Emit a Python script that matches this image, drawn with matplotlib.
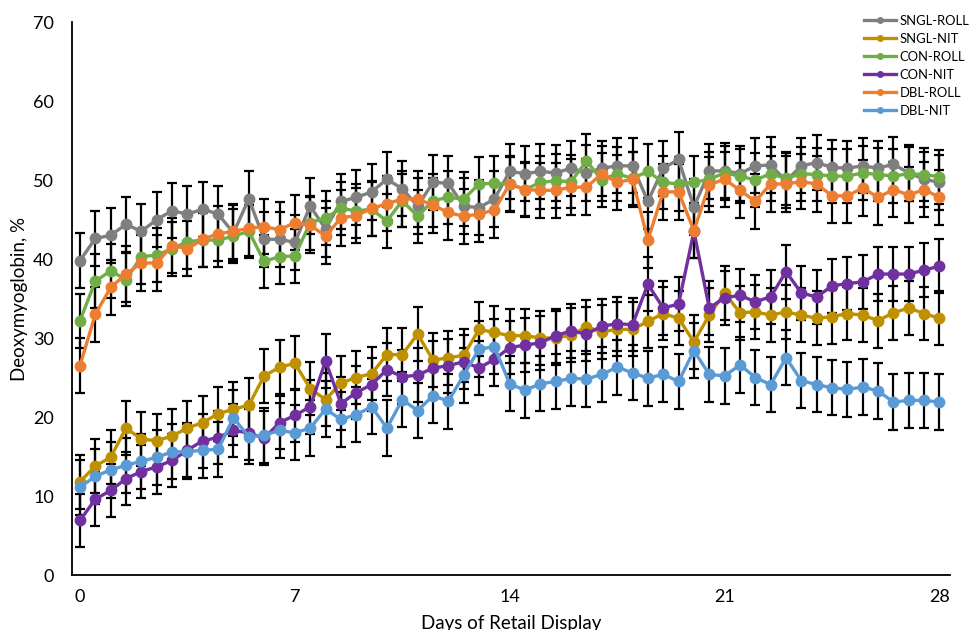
import numpy as np
import matplotlib.pyplot as plt
from matplotlib.lines import Line2D

# -----------------------------------
# Data
# -----------------------------------

days = np.arange(57) * 0.5

sngl_roll = [39.8, 42.6, 43.0, 44.4, 43.5, 45.0, 46.1, 45.7, 46.3, 45.7,
             43.3, 47.6, 42.5, 42.5, 42.1, 46.7, 43.8, 47.3, 47.8, 48.5,
             50.1, 48.9, 46.7, 49.7, 49.6, 46.7, 46.5, 47.6, 51.1, 50.8,
             51.1, 50.9, 51.5, 50.9, 51.5, 51.8, 51.8, 47.3, 51.5, 52.6,
             46.6, 51.1, 51.2, 50.8, 51.8, 51.9, 49.9, 51.8, 52.2, 51.6,
             51.5, 51.8, 51.5, 52.0, 50.9, 50.1, 49.7]

sngl_nit = [11.8, 13.8, 14.9, 18.6, 17.2, 17.0, 17.6, 18.6, 19.3, 20.4,
            21.0, 21.5, 25.2, 26.3, 26.8, 23.6, 22.2, 24.3, 25.0, 25.5,
            27.9, 27.9, 30.5, 27.2, 27.5, 27.8, 31.1, 30.7, 30.3, 30.3,
            30.0, 30.0, 30.4, 31.4, 30.8, 31.1, 31.1, 32.1, 33.1, 32.5,
            29.5, 32.9, 35.7, 33.2, 33.3, 32.9, 33.3, 32.9, 32.5, 32.7,
            33.1, 32.9, 32.2, 33.2, 33.8, 33.1, 32.5]

con_roll = [32.2, 37.2, 38.5, 37.4, 40.3, 40.5, 41.3, 42.2, 42.4, 42.4,
            42.9, 43.5, 39.7, 40.3, 40.4, 44.6, 45.2, 46.4, 46.1, 46.3,
            44.8, 47.4, 45.4, 47.4, 47.8, 47.6, 49.5, 49.6, 49.5, 48.8,
            49.7, 49.9, 49.8, 52.4, 50.0, 50.8, 50.2, 51.1, 49.7, 49.5,
            49.7, 50.1, 50.9, 50.5, 50.0, 50.8, 50.2, 50.8, 50.7, 50.5,
            50.5, 50.9, 50.7, 50.5, 50.8, 50.7, 50.4]

con_nit = [6.9, 9.6, 10.7, 12.2, 13.1, 13.7, 14.5, 15.8, 17.0, 17.4,
           18.3, 18.0, 17.3, 19.3, 20.2, 21.3, 27.1, 21.7, 23.1, 24.1,
           26.0, 25.1, 25.3, 26.2, 26.5, 27.0, 26.2, 27.3, 28.8, 29.1,
           29.4, 30.3, 30.9, 30.5, 31.5, 31.8, 31.7, 36.8, 33.8, 34.3,
           43.5, 33.8, 35.1, 35.4, 34.6, 35.2, 38.4, 35.7, 35.2, 36.6,
           36.9, 37.1, 38.1, 38.1, 38.1, 38.6, 39.1]

dbl_roll = [26.5, 33.0, 36.4, 38.1, 39.5, 39.5, 41.7, 41.3, 42.5, 43.2,
            43.5, 43.9, 44.1, 43.7, 44.6, 44.3, 42.9, 45.2, 45.5, 46.4,
            47.0, 47.6, 47.6, 46.8, 45.9, 45.4, 45.7, 46.2, 49.5, 48.8,
            48.7, 48.7, 49.1, 49.1, 50.8, 49.7, 50.1, 42.4, 48.5, 48.5,
            43.6, 49.4, 50.1, 48.7, 47.3, 49.5, 49.5, 49.8, 49.5, 48.0,
            48.0, 49.0, 47.8, 48.8, 48.1, 48.8, 47.8]

dbl_nit = [11.1, 12.5, 13.3, 13.9, 14.4, 14.9, 15.6, 15.6, 15.8, 15.9,
           19.9, 17.5, 17.7, 18.3, 18.0, 18.6, 21.0, 19.7, 20.3, 21.3,
           18.6, 22.2, 20.8, 22.7, 22.0, 25.3, 28.6, 28.9, 24.2, 23.4,
           24.2, 24.5, 24.9, 24.8, 25.4, 26.3, 25.6, 24.9, 25.4, 24.5,
           28.4, 25.4, 25.2, 26.6, 25.0, 24.1, 27.5, 24.6, 24.1, 23.7,
           23.5, 23.8, 23.3, 21.9, 22.1, 22.1, 21.9]

labels = ["SNGL-ROLL", "SNGL-NIT", "CON-ROLL", "CON-NIT", "DBL-ROLL", "DBL-NIT"]
series = [sngl_roll, sngl_nit, con_roll, con_nit, dbl_roll, dbl_nit]
sem = [3.5, 3.4, 3.4, 3.4, 3.5, 3.5]
colors = ["#7F7F7F", "#BF9000", "#70AD47", "#7030A0", "#ED7D31", "#5B9BD5"]

# -----------------------------------
# Plot
# -----------------------------------

plt.rcParams['font.family'] = ['Lato', 'DejaVu Sans']

fig = plt.figure(figsize=(9.69, 6.3), dpi=100)
ax = fig.add_axes([0.0743, 0.0873, 0.9057, 0.8777])

for vals, err, col in zip(series, sem, colors):
    ax.errorbar(days, vals, yerr=err, fmt='none', ecolor='black',
                elinewidth=1.6, capsize=3.5, capthick=1.6, zorder=2)
    ax.plot(days, vals, color=col, lw=2.4, marker='o', ms=7.5, zorder=3)

ax.set_xlim(-0.26, 28.33)
ax.set_ylim(0, 70)
ax.set_xticks([0, 7, 14, 21, 28])
ax.set_yticks(range(0, 71, 10))
ax.tick_params(length=0, labelsize=13)
ax.tick_params(axis='x', pad=10)
ax.tick_params(axis='y', pad=13)

for side in ['top', 'right']:
    ax.spines[side].set_visible(False)
for side in ['left', 'bottom']:
    ax.spines[side].set_linewidth(1.3)

ax.set_xlabel("Days of Retail Display", fontsize=13.5, labelpad=7)
ax.set_ylabel("Deoxymyoglobin, %", fontsize=13.5, labelpad=4)

handles = [Line2D([0], [0], color=c, lw=2.4, marker='o', ms=4) for c in colors]
fig.legend(handles, labels, loc='upper left', bbox_to_anchor=(0.886, 0.985),
           frameon=False, fontsize=9.4, labelspacing=0.46, handlelength=2.5,
           handletextpad=0.25, borderaxespad=0)

plt.savefig("out.png", dpi=100)
